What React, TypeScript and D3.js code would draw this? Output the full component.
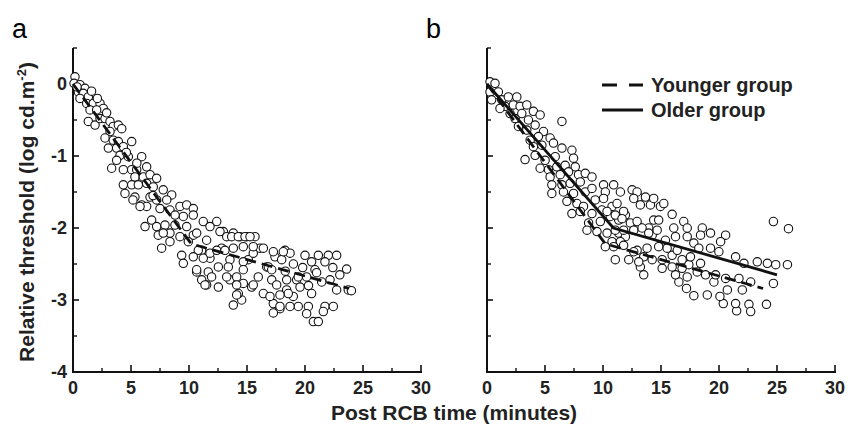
import React from 'react';
import * as d3 from 'd3';

// values (minutes, log threshold)
const xTicks = [0, 5, 10, 15, 20, 25, 30];
const xMinorTicks = [2.5, 7.5, 12.5, 17.5, 22.5, 27.5];
const yTicks = [0, -1, -2, -3, -4];
const yMinorTicks = [0.5, -0.5, -1.5, -2.5, -3.5];
const panelLetters = ['a', 'b'];
const legendLabels = ['Younger group', 'Older group'];

const youngerFit: [number, number][] = [[0, 0], [10.2, -2.22], [23.8, -2.84]];
const olderFit: [number, number][] = [[0, 0], [10.9, -2.0], [25, -2.65]];

const youngerData: [number, number][] = [
  [0.17, 0.1], [0.09, 0.01], [0.6, -0.01], [1.03, -0.06], [0.46, -0.11], [0.89, -0.13], [1.32, -0.18], [0.6, -0.2],
  [1.18, -0.27], [1.75, -0.27], [2.33, -0.27], [2.61, -0.34], [1.47, -0.36], [2.04, -0.36], [1.32, -0.52], [1.9, -0.57],
  [2.33, -0.48], [2.76, -0.48], [3.19, -0.52], [3.47, -0.59], [3.91, -0.57], [4.2, -0.62], [3.19, -0.66], [2.76, -0.75],
  [3.47, -0.78], [3.91, -0.8], [3.05, -0.89], [3.76, -0.89], [4.34, -0.87], [5.06, -0.8], [4.05, -0.99], [4.77, -1.01],
  [3.76, -1.06], [3.33, -1.17], [4.34, -1.19], [5.06, -1.19], [5.49, -1.19], [5.92, -1.01], [6.35, -1.15], [5.34, -1.29],
  [6.06, -1.29], [6.64, -1.26], [7.21, -1.31], [4.34, -1.4], [5.06, -1.4], [5.63, -1.4], [6.35, -1.38], [6.92, -1.43],
  [7.78, -1.47], [8.51, -1.54], [4.48, -1.52], [5.34, -1.57], [5.92, -1.68], [6.64, -1.57], [7.21, -1.61], [8.08, -1.61],
  [6.35, -1.7], [7.5, -1.73], [8.36, -1.75], [9.22, -1.7], [9.8, -1.68], [10.37, -1.73], [6.78, -1.89], [6.21, -1.98],
  [7.21, -1.98], [7.93, -1.96], [8.79, -1.96], [9.51, -1.84], [10.37, -1.82], [11.23, -1.91], [12.39, -1.91], [11.81, -1.98],
  [9.8, -1.98], [10.37, -2.1], [7.35, -2.1], [8.36, -2.07], [9.22, -2.12], [12.96, -2.05], [13.25, -2.12],
  [5.17, -1.61], [5.78, -1.7], [7.64, -2.28], [7.78, -2.07], [8.36, -2.19], [9.37, -2.38], [9.51, -2.49], [9.94, -2.19],
  [10.66, -2.61], [11.09, -2.72], [11.52, -2.79], [11.09, -2.31], [11.81, -2.42], [11.66, -2.61], [12.53, -2.82],
  [12.67, -2.05], [12.82, -2.28], [12.53, -2.54], [13.82, -2.07], [13.53, -2.44], [13.53, -2.72], [14.11, -2.68],
  [13.82, -3.07], [14.54, -3.0], [14.25, -2.91], [14.68, -2.77], [14.4, -2.12], [14.97, -2.12], [15.69, -2.12],
  [15.11, -2.44], [15.54, -2.35], [16.12, -2.28], [15.4, -2.82], [15.97, -2.68], [16.41, -2.91], [16.7, -2.54],
  [17.13, -2.72], [17.27, -3.05], [17.41, -2.4], [17.99, -2.44], [17.84, -3.12], [18.28, -2.31], [18.71, -2.35],
  [18.42, -2.86], [18.99, -2.95], [19.42, -3.09], [19.28, -2.72],
  [10.66, -2.07], [11.52, -2.17], [10.8, -2.31], [10.37, -2.4], [11.23, -2.42], [11.81, -2.35], [12.39, -2.31], [13.1, -2.31],
  [13.68, -2.12], [14.25, -2.12], [14.83, -2.12], [15.26, -2.12], [13.82, -2.28], [14.68, -2.26], [15.54, -2.26],
  [16.41, -2.28], [17.27, -2.33], [18.13, -2.33], [20.0, -2.38], [21.15, -2.38], [22.01, -2.38], [22.73, -2.38],
  [20.57, -2.47], [21.72, -2.47], [23.59, -2.57], [10.66, -2.58], [11.38, -2.79], [11.95, -2.68], [13.25, -2.68],
  [14.11, -2.79], [13.39, -2.54], [14.68, -2.47], [14.68, -2.58], [15.54, -2.79], [16.84, -2.54], [17.56, -2.79],
  [17.13, -2.58], [18.42, -2.72], [19.42, -2.68], [19.57, -2.82], [20.14, -2.68], [20.86, -2.58], [21.44, -2.75],
  [22.16, -2.72], [22.73, -2.86], [23.73, -2.86], [20.57, -2.91], [18.56, -2.91], [17.84, -2.93], [16.98, -2.95],
  [14.11, -2.93], [17.27, -3.18], [17.84, -3.09], [18.71, -3.09], [20.29, -3.09], [20.14, -3.19], [21.72, -3.09],
  [22.44, -3.09], [21.58, -3.16], [20.72, -3.3], [21.15, -3.3], [24.0, -2.87],
  [19.0, -2.5], [19.8, -2.55], [21.0, -2.62], [22.4, -2.55], [18.3, -2.6], [20.3, -2.8], [23.0, -2.65],
  [0.35, -0.04], [1.6, -0.1], [2.1, -0.2], [2.9, -0.4], [4.6, -0.95], [5.5, -1.1], [6.9, -1.55], [8.8, -1.82],
];

const olderData: [number, number][] = [
  [0.26, 0.03], [0.69, 0.01], [0.26, -0.11], [0.98, -0.11], [0.4, -0.22], [1.27, -0.22], [1.84, -0.18], [2.57, -0.18],
  [1.56, -0.31], [2.27, -0.29], [2.85, -0.31], [3.43, -0.29], [1.12, -0.34], [1.99, -0.41], [3.0, -0.41], [4.0, -0.38],
  [4.58, -0.43], [2.42, -0.48], [3.57, -0.5], [2.71, -0.59], [3.43, -0.64], [4.15, -0.57], [4.87, -0.66], [4.43, -0.73],
  [5.44, -0.75], [5.73, -0.82], [6.46, -0.52], [3.72, -0.78], [4.0, -0.87], [4.73, -0.85], [4.15, -0.99], [3.28, -1.05],
  [5.01, -1.06], [5.88, -1.01], [6.46, -0.89], [7.32, -0.92], [7.46, -1.03], [7.61, -1.15], [4.58, -1.17], [5.3, -1.19],
  [6.02, -1.15], [6.74, -1.13], [5.44, -1.29], [6.31, -1.26], [7.03, -1.22], [7.89, -1.26], [8.47, -1.24], [9.05, -1.29],
  [5.59, -1.4], [6.46, -1.4], [7.17, -1.38], [8.04, -1.36], [5.59, -1.52], [6.59, -1.5], [7.46, -1.52], [8.47, -1.5],
  [9.05, -1.45], [10.05, -1.4], [10.92, -1.4], [10.2, -1.5], [11.5, -1.5], [12.51, -1.47], [13.08, -1.57], [13.66, -1.57],
  [13.22, -1.68], [14.09, -1.68], [6.89, -1.63], [7.75, -1.66], [8.32, -1.7], [9.33, -1.61], [10.05, -1.59], [7.32, -1.8],
  [8.04, -1.77], [9.05, -1.8], [9.91, -1.75], [10.78, -1.7], [11.21, -1.66], [8.76, -1.93], [9.77, -1.91], [10.63, -1.84],
  [11.35, -1.89], [11.93, -1.82], [12.36, -1.93], [13.08, -1.98], [13.94, -2.0], [8.62, -2.03], [9.48, -2.05],
  [10.35, -2.07], [11.35, -2.07], [11.93, -2.12], [10.78, -2.19], [11.5, -2.19], [14.24, -2.1],
  [12.94, -1.5], [12.65, -1.59], [14.37, -1.59], [14.95, -1.7], [15.24, -1.66], [15.96, -1.81], [10.35, -1.77],
  [11.06, -1.82], [11.78, -1.77], [11.64, -1.87], [12.94, -1.91], [14.37, -1.89], [14.8, -1.89], [16.1, -2.0],
  [16.96, -1.91], [17.26, -2.0], [18.56, -2.0], [19.27, -2.07], [18.41, -2.1], [20.57, -2.1], [20.14, -2.19],
  [11.06, -2.03], [11.78, -2.03], [12.65, -2.03], [13.37, -2.0], [13.94, -2.07], [14.67, -2.03], [15.38, -2.17],
  [16.25, -2.12], [17.26, -2.12], [17.83, -2.21], [19.27, -2.28], [18.26, -2.28], [19.99, -2.33], [21.43, -2.4],
  [22.15, -2.49], [23.3, -2.47], [24.17, -2.49], [24.89, -2.51], [25.9, -2.51], [24.69, -1.91], [25.99, -2.01],
  [24.69, -2.77], [24.09, -3.06], [22.58, -3.06], [22.73, -3.16], [21.52, -3.15], [21.43, -3.05], [20.37, -3.05],
  [20.08, -2.95], [20.72, -2.86], [22.01, -2.86], [21.72, -2.7], [22.73, -2.75], [20.57, -2.7], [19.56, -2.75],
  [19.71, -2.65], [18.84, -2.65], [18.99, -2.93], [17.83, -2.94], [17.2, -2.84], [16.54, -2.75], [16.25, -2.65],
  [17.26, -2.68], [18.12, -2.61], [18.41, -2.49], [17.4, -2.51], [16.82, -2.56], [15.96, -2.54], [15.1, -2.56],
  [15.1, -2.44], [15.96, -2.38], [16.82, -2.44], [17.54, -2.4], [14.24, -2.44], [13.51, -2.4], [12.94, -2.31],
  [13.8, -2.28], [14.8, -2.26], [15.53, -2.28], [16.4, -2.31], [13.22, -2.54], [13.51, -2.65], [13.08, -2.47],
  [12.22, -2.44], [11.06, -2.44], [12.65, -2.33], [11.78, -2.24], [10.92, -2.26], [10.2, -2.26],
];

const W = 857;
const H = 432;
const font = '"Liberation Sans", Arial, Helvetica, sans-serif';

const y = d3.scaleLinear().domain([-4, 0.5]).range([372, 48]);

type PanelProps = {
  x0: number;
  letter: string;
  points: [number, number][];
  fits: { data: [number, number][]; dashed: boolean }[];
  showYLabels: boolean;
};

function Panel({ x0, letter, points, fits, showYLabels }: PanelProps) {
  const x = d3.scaleLinear().domain([0, 30]).range([x0, x0 + 348]);
  const line = d3.line<[number, number]>().x(d => x(d[0])).y(d => y(d[1]));
  const [yb, yt] = y.range();

  return (
    <g>
      <text x={x0 - 61} y={38} fontSize={27} fontFamily={font}>{letter}</text>
      {/* axes */}
      <line x1={x0} x2={x0} y1={yt} y2={yb + 1} stroke="#111" strokeWidth={2} />
      <line x1={x0 - 1} x2={x(30) + 1} y1={yb} y2={yb} stroke="#111" strokeWidth={2} />
      {xTicks.map(t => (
        <g key={'xt' + t}>
          <line x1={x(t)} x2={x(t)} y1={yb} y2={yb - 7} stroke="#111" strokeWidth={1.6} />
          <text x={x(t)} y={yb + 22} textAnchor="middle" fontSize={18} fontWeight="bold" fontFamily={font} fill="#222">{t}</text>
        </g>
      ))}
      {xMinorTicks.map(t => (
        <line key={'xm' + t} x1={x(t)} x2={x(t)} y1={yb} y2={yb - 4} stroke="#111" strokeWidth={1.4} />
      ))}
      {yTicks.map(t => (
        <g key={'yt' + t}>
          <line x1={x0} x2={x0 + 6} y1={y(t)} y2={y(t)} stroke="#111" strokeWidth={1.6} />
          {showYLabels && (
            <text x={x0 - 6} y={y(t)} dy="0.36em" textAnchor="end" fontSize={18} fontWeight="bold" fontFamily={font} fill="#222">{t}</text>
          )}
        </g>
      ))}
      {yMinorTicks.map(t => (
        <line key={'ym' + t} x1={x0} x2={x0 + 4} y1={y(t)} y2={y(t)} stroke="#111" strokeWidth={1.4} />
      ))}
      {/* points */}
      {points.map((d, i) => (
        <circle key={i} cx={x(d[0])} cy={y(d[1])} r={4.2} fill="#fff" stroke="#111" strokeWidth={1.1} />
      ))}
      {/* fitted lines */}
      {fits.map((f, i) => (
        <path key={'f' + i} d={line(f.data) || ''} fill="none" stroke="#111" strokeWidth={2.8}
          strokeDasharray={f.dashed ? '11,6' : undefined} />
      ))}
    </g>
  );
}

export default function App() {
  return (
    <svg width={W} height={H} style={{ position: 'absolute', left: 0, top: 0, background: '#fff' }}>
      <Panel x0={73} letter={panelLetters[0]} points={youngerData}
        fits={[{ data: youngerFit, dashed: true }]} showYLabels={true} />
      <Panel x0={487} letter={panelLetters[1]} points={olderData}
        fits={[{ data: youngerFit, dashed: true }, { data: olderFit, dashed: false }]} showYLabels={false} />

      {/* legend */}
      <line x1={602} x2={643} y1={85} y2={85} stroke="#111" strokeWidth={3} strokeDasharray="15,12" />
      <text x={651} y={92} fontSize={20} fontWeight="bold" fontFamily={font} fill="#222">{legendLabels[0]}</text>
      <line x1={602} x2={643} y1={110} y2={110} stroke="#111" strokeWidth={3} />
      <text x={651} y={117} fontSize={20} fontWeight="bold" fontFamily={font} fill="#222">{legendLabels[1]}</text>

      {/* axis titles */}
      <text transform="translate(34,212) rotate(-90)" textAnchor="middle" fontSize={21} fontWeight="bold" fontFamily={font} fill="#222">
        Relative threshold (log cd.m<tspan dy={-8} fontSize={13}>-2</tspan><tspan dy={8}>)</tspan>
      </text>
      <text x={454} y={420} textAnchor="middle" fontSize={21} fontWeight="bold" fontFamily={font} fill="#222">
        Post RCB time (minutes)
      </text>
    </svg>
  );
}
